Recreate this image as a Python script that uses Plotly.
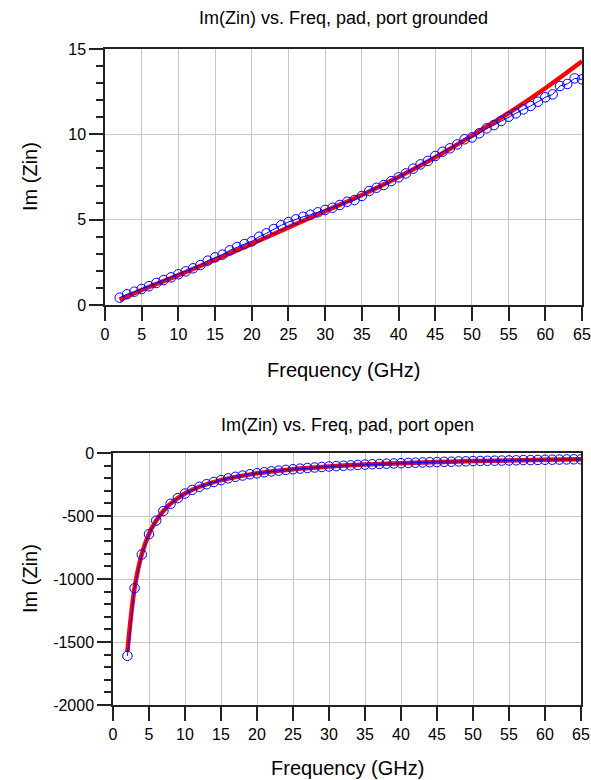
import plotly.graph_objects as go

W, H = 591, 780

# ---------------- data ----------------
freq = list(range(2, 66))

# top: port grounded (blue circles)
im_gnd_blue = [0.43, 0.63, 0.78, 0.94, 1.10, 1.29, 1.46, 1.62, 1.80, 1.97,
               2.15, 2.34, 2.60, 2.79, 2.95, 3.20, 3.40, 3.57, 3.73, 4.00,
               4.20, 4.45, 4.67, 4.86, 5.02, 5.17, 5.29, 5.43, 5.57, 5.70,
               5.86, 6.05, 6.15, 6.39, 6.68, 6.87, 7.03, 7.26, 7.48, 7.71,
               7.99, 8.24, 8.44, 8.73, 8.98, 9.18, 9.41, 9.71, 9.82, 10.06,
               10.35, 10.54, 10.78, 11.03, 11.23, 11.46, 11.66, 11.91, 12.17, 12.34,
               12.83, 12.95, 13.28, 13.22]

# top: model (red line)
freq_red_gnd = [2, 5, 10, 15, 20, 25, 30, 35, 40, 45, 50, 55, 60, 65]
im_gnd_red = [0.30, 0.88, 1.75, 2.65, 3.58, 4.55, 5.50, 6.45, 7.50, 8.65,
              9.92, 11.25, 12.70, 14.28]

# bottom: port open (blue circles)
im_open_blue = [-1610, -1073, -805, -644, -537, -460, -403, -358, -322, -293,
                -268, -248, -230, -215, -201, -189, -179, -169, -161, -153,
                -146, -140, -134, -129, -124, -119, -115, -111, -107, -104,
                -101, -98, -95, -92, -89, -87, -85, -83, -81, -79,
                -77, -75, -73, -72, -70, -69, -67, -66, -64, -63,
                -62, -61, -60, -59, -58, -56, -56, -55, -54, -53,
                -52, -51, -50, -50]

# bottom: model (red line)
freq_red_open = [2, 3, 4, 5, 6, 7, 8, 10, 12, 15, 20, 25, 30, 35, 40, 45, 50, 55, 60, 65]
im_open_red = [-1580, -1070, -803, -642, -536, -460, -402, -322, -268, -215,
               -161, -129, -107, -92, -81, -72, -64, -59, -54, -50]

# tick labels of the lower y axis (plain hyphen minus, as in the original)
open_yticks = [-2000, -1500, -1000, -500, 0]
open_yticklabels = ["-2000", "-1500", "-1000", "-500", "0"]

titles = ["Im(Zin) vs. Freq, pad, port grounded", "Im(Zin) vs. Freq, pad, port open"]
x_title = "Frequency (GHz)"
y_title = "Im (Zin)"

# ---------------- layout helpers ----------------
FONT = "Liberation Sans, Arial, sans-serif"

def px_x(p):
    return p / W

def px_y(p):
    return 1 - p / H

top_box = dict(x0=105, x1=582, y0=49, y1=305)
bot_box = dict(x0=113, x1=581, y0=453, y1=705)

fig = go.Figure()

red = dict(color="#ff0000", width=4.5)
blue_line = dict(color="#0000ff", width=1)
blue_marker = dict(symbol="circle-open", size=9.5, color="#0000ff", line=dict(width=1))

fig.add_trace(go.Scatter(x=freq_red_gnd, y=im_gnd_red, mode="lines", line=dict(shape="spline", **red),
                         xaxis="x", yaxis="y", showlegend=False))
fig.add_trace(go.Scatter(x=freq, y=im_gnd_blue, mode="lines+markers", line=blue_line, marker=blue_marker,
                         xaxis="x", yaxis="y", showlegend=False))
fig.add_trace(go.Scatter(x=freq_red_open, y=im_open_red, mode="lines", line=dict(shape="spline", **red),
                         xaxis="x2", yaxis="y2", showlegend=False))
fig.add_trace(go.Scatter(x=freq, y=im_open_blue, mode="lines+markers", line=blue_line, marker=blue_marker,
                         xaxis="x2", yaxis="y2", showlegend=False))

axis_common = dict(
    automargin=False,
    showline=True, linecolor="#222222", linewidth=1.5, mirror=True,
    showgrid=True, gridcolor="#c8c8c8", gridwidth=1,
    zeroline=False,
    ticks="outside", ticklen=14, tickwidth=1.5, tickcolor="#222222",
    tickfont=dict(family=FONT, size=16, color="#000000"),
)
minor_common = dict(ticks="outside", ticklen=7, tickwidth=1.5, tickcolor="#222222", showgrid=False)

fig.update_layout(
    template="none",
    width=W, height=H, autosize=False,
    margin=dict(l=0, r=0, t=0, b=0, pad=0),
    paper_bgcolor="white", plot_bgcolor="white",
    xaxis=dict(domain=[px_x(top_box["x0"]), px_x(top_box["x1"])], anchor="y",
               range=[0, 65], dtick=5, tick0=0, **axis_common),
    yaxis=dict(domain=[px_y(top_box["y1"]), px_y(top_box["y0"])], anchor="x",
               range=[0, 15], dtick=5, tick0=0, minor=dict(dtick=1, **minor_common),
               **axis_common),
    xaxis2=dict(domain=[px_x(bot_box["x0"]), px_x(bot_box["x1"])], anchor="y2",
                range=[0, 65], dtick=5, tick0=0, **axis_common),
    yaxis2=dict(domain=[px_y(bot_box["y1"]), px_y(bot_box["y0"])], anchor="x2",
                range=[-2000, 0], tickmode="array", tickvals=open_yticks, ticktext=open_yticklabels,
                minor=dict(tickmode="linear", tick0=0, dtick=100, **minor_common),
                **axis_common),
)

ann = []
for i, (box, t_y, xt_y) in enumerate([(top_box, 18, 370), (bot_box, 425, 768)]):
    cx = (box["x0"] + box["x1"]) / 2
    ann.append(dict(text=titles[i], x=px_x(cx), y=px_y(t_y), xref="paper", yref="paper",
                    showarrow=False, xanchor="center", yanchor="middle",
                    font=dict(family=FONT, size=18, color="#000000")))
    ann.append(dict(text=x_title, x=px_x(cx), y=px_y(xt_y), xref="paper", yref="paper",
                    showarrow=False, xanchor="center", yanchor="middle",
                    font=dict(family=FONT, size=20, color="#000000")))
    cy = (box["y0"] + box["y1"]) / 2
    ann.append(dict(text=y_title, x=px_x(30), y=px_y(cy), xref="paper", yref="paper",
                    showarrow=False, xanchor="center", yanchor="middle", textangle=-90,
                    font=dict(family=FONT, size=20, color="#000000")))
fig.update_layout(annotations=ann)

fig.write_html("out.html")
